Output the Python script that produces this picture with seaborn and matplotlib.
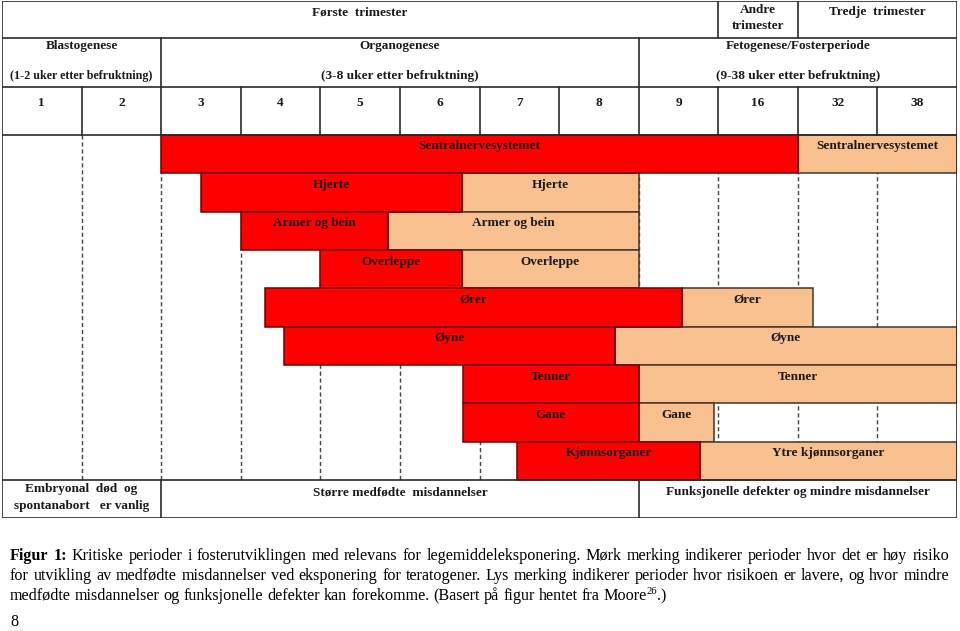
import matplotlib
matplotlib.use("Agg")
import matplotlib.pyplot as plt
import seaborn as sns
import numpy as np

sns.set_theme(style="white")
plt.rcParams['font.family'] = ['Liberation Serif', 'DejaVu Serif']

# ---------------- data ----------------
weeks = ["1", "2", "3", "4", "5", "6", "7", "8", "9", "16", "32", "38"]
organs = ["Sentralnervesystemet", "Hjerte", "Armer og bein", "Overleppe", "Ører",
          "Øyne", "Tenner", "Gane", "Kjønnsorganer"]
light_labels = ["Sentralnervesystemet", "Hjerte", "Armer og bein", "Overleppe", "Ører",
                "Øyne", "Tenner", "Gane", "Ytre kjønnsorganer"]
# positions in week-column units (0 = left edge of column "1", 12 = right edge of "38")
red_start = [2.0, 2.5, 3.0, 4.0, 3.30, 3.54, 5.79, 5.79, 6.47]
red_end = [10.0, 5.78, 4.85, 5.78, 8.54, 7.70, 8.0, 8.0, 8.77]
light_end = [12.0, 8.0, 8.0, 8.0, 10.19, 12.0, 12.0, 8.95, 12.0]

trimesters = ["Første  trimester", "Andre\ntrimester", "Tredje  trimester"]
trimester_span = [(0, 9), (9, 10), (10, 12)]
periods = ["Blastogenese", "Organogenese", "Fetogenese/Fosterperiode"]
period_weeks = ["(1-2 uker etter befruktning)", "(3-8 uker etter befruktning)",
                "(9-38 uker etter befruktning)"]
period_span = [(0, 2), (2, 8), (8, 12)]
outcomes = ["Embryonal  død  og\nspontanabort   er vanlig", "Større medfødte  misdannelser",
            "Funksjonelle defekter og mindre misdannelser"]

caption_lines = [
    "Figur 1: Kritiske perioder i fosterutviklingen med relevans for legemiddeleksponering. "
    "Mørk merking indikerer perioder hvor det er høy risiko",
    "for utvikling av medfødte misdannelser ved eksponering for teratogener. Lys merking "
    "indikerer perioder hvor risikoen er lavere, og hvor mindre",
    "medfødte misdannelser og funksjonelle defekter kan forekomme. (Basert på figur hentet fra Moore",
]
page_number = "8"

# ---------------- style ----------------
RED = "#FF0000"
RED_EDGE = "#6E0000"
PEACH = "#F8BF8F"
PEACH_EDGE = "#4A3526"
LINE = "#2a2a2a"
TXT = "#1a1a1a"
FS = 9.5

W, H = 960, 631
fig = plt.figure(figsize=(W / 100, H / 100), dpi=100)
fig.patch.set_facecolor("white")

# table axis: x in columns, y in pixels from table top
TOP_PX, BOT_PX, LEFT_PX, RIGHT_PX = 1, 518, 2, 957
ax = fig.add_axes([LEFT_PX / W, 1 - BOT_PX / H, (RIGHT_PX - LEFT_PX) / W, (BOT_PX - TOP_PX) / H])
TH = BOT_PX - TOP_PX
ax.set_xlim(0, 12)
ax.set_ylim(TH, 0)
ax.axis("off")
COL_PX = (RIGHT_PX - LEFT_PX) / 12

r1, r2, r3 = 37, 86, 134          # header row bottoms
bars_bottom = 479
row_h = (bars_bottom - r3) / len(organs)

lw = 1.2
# horizontal lines
for y in [0, r1, r2, r3, bars_bottom, TH]:
    ax.plot([0, 12], [y, y], color=LINE, lw=lw, zorder=6, solid_capstyle="butt")
# outer verticals
for x in [0, 12]:
    ax.plot([x, x], [0, TH], color=LINE, lw=lw, zorder=6)
# header verticals
for x in [9, 10]:
    ax.plot([x, x], [0, r1], color=LINE, lw=lw, zorder=6)
for x in [2, 8]:
    ax.plot([x, x], [r1, r2], color=LINE, lw=lw, zorder=6)
    ax.plot([x, x], [bars_bottom, TH], color=LINE, lw=lw, zorder=6)
for x in range(1, 12):
    ax.plot([x, x], [r2, r3], color=LINE, lw=lw, zorder=6)
    ax.plot([x, x], [r3, bars_bottom], color="#444444", lw=1.0, ls=(0, (3, 2)), zorder=1)

fig.canvas.draw()
rend = fig.canvas.get_renderer()

# header text
tkw = dict(fontweight="bold", color=TXT, ha="center")


def cell_text(x, y, s, span_cols, **kw):
    t = ax.text(x, y, s, fontsize=FS, **tkw, **kw)
    wpx = t.get_window_extent(rend).width
    avail = span_cols * COL_PX - 16
    if wpx > avail:
        t.set_fontsize(FS * avail / wpx)
    return t


for lab, (a, b) in zip(trimesters, trimester_span):
    if "\n" in lab:
        cell_text((a + b) / 2, 17, lab, b - a, va="center", linespacing=1.35)
    else:
        cell_text((a + b) / 2, 11.5, lab, b - a, va="center")
for lab, sub, (a, b) in zip(periods, period_weeks, period_span):
    cell_text((a + b) / 2, 45.5, lab, b - a, va="center")
    cell_text((a + b) / 2, 74.5, sub, b - a, va="center")
for i, wk in enumerate(weeks):
    cell_text(i + 0.5, 102.5, wk, 1, va="center")

# bars
rs = np.array(red_start)
re_ = np.array(red_end)
le = np.array(light_end)
yc = r3 + row_h * (np.arange(len(organs)) + 0.5)
ax.barh(yc, le - re_, left=re_, height=row_h, color=PEACH, edgecolor=PEACH_EDGE, lw=1.1, zorder=3)
ax.barh(yc, re_ - rs, left=rs, height=row_h, color=RED, edgecolor=RED_EDGE, lw=1.1, zorder=4)
for i in range(len(organs)):
    ytop = r3 + row_h * i
    ax.text((rs[i] + re_[i]) / 2, ytop + 11.5, organs[i], va="center", zorder=7, fontsize=FS, **tkw)
    ax.text((re_[i] + le[i]) / 2, ytop + 11.5, light_labels[i], va="center", zorder=7, fontsize=FS, **tkw)

# bottom row
for lab, (a, b) in zip(outcomes, period_span):
    if "\n" in lab:
        cell_text((a + b) / 2, 496.5, lab, b - a, va="center", linespacing=1.55)
    else:
        cell_text((a + b) / 2, 491, lab, b - a, va="center")

# ---------------- caption ----------------


def txt_width(s, size, weight="normal"):
    t = fig.text(0, 0, s, fontsize=size, fontweight=weight)
    w = t.get_window_extent(rend).width
    t.remove()
    return w


def fy(py):
    return 1 - py / H


CAP_X0, CAP_X1 = 10, 949
base_size = 12.0
words0 = caption_lines[0].split(" ")
weights0 = ["bold", "bold"] + ["normal"] * (len(words0) - 2)
sp = txt_width("a a", base_size) - 2 * txt_width("a", base_size)
nat = sum(txt_width(w, base_size, wt) for w, wt in zip(words0, weights0)) + sp * (len(words0) - 1)
cap_size = base_size * (CAP_X1 - CAP_X0) / nat * 0.985


def justify(words, weights, py, size):
    widths = [txt_width(w, size, wt) for w, wt in zip(words, weights)]
    gap = (CAP_X1 - CAP_X0 - sum(widths)) / (len(words) - 1)
    x = CAP_X0
    for w, wt, wd in zip(words, weights, widths):
        fig.text(x / W, fy(py), w, fontsize=size, fontweight=wt, color="black", va="baseline")
        x += wd + gap


justify(words0, weights0, 560, cap_size)
words1 = caption_lines[1].split(" ")
justify(words1, ["normal"] * len(words1), 580, cap_size)

# last line, left aligned with superscript
sp = txt_width("a a", cap_size) - 2 * txt_width("a", cap_size)
x = CAP_X0
words2 = caption_lines[2].split(" ")
for w in words2:
    fig.text(x / W, fy(600), w, fontsize=cap_size, color="black", va="baseline")
    x += txt_width(w, cap_size) + sp
x -= sp
fig.text(x / W, fy(594), "26", fontsize=cap_size * 0.65, color="black", va="baseline")
x += txt_width("26", cap_size * 0.65)
fig.text(x / W, fy(600), ".)", fontsize=cap_size, color="black", va="baseline")

fig.text(10 / W, fy(626), page_number, fontsize=cap_size, color="black", va="baseline")

fig.savefig("out.png", dpi=100, facecolor="white")
